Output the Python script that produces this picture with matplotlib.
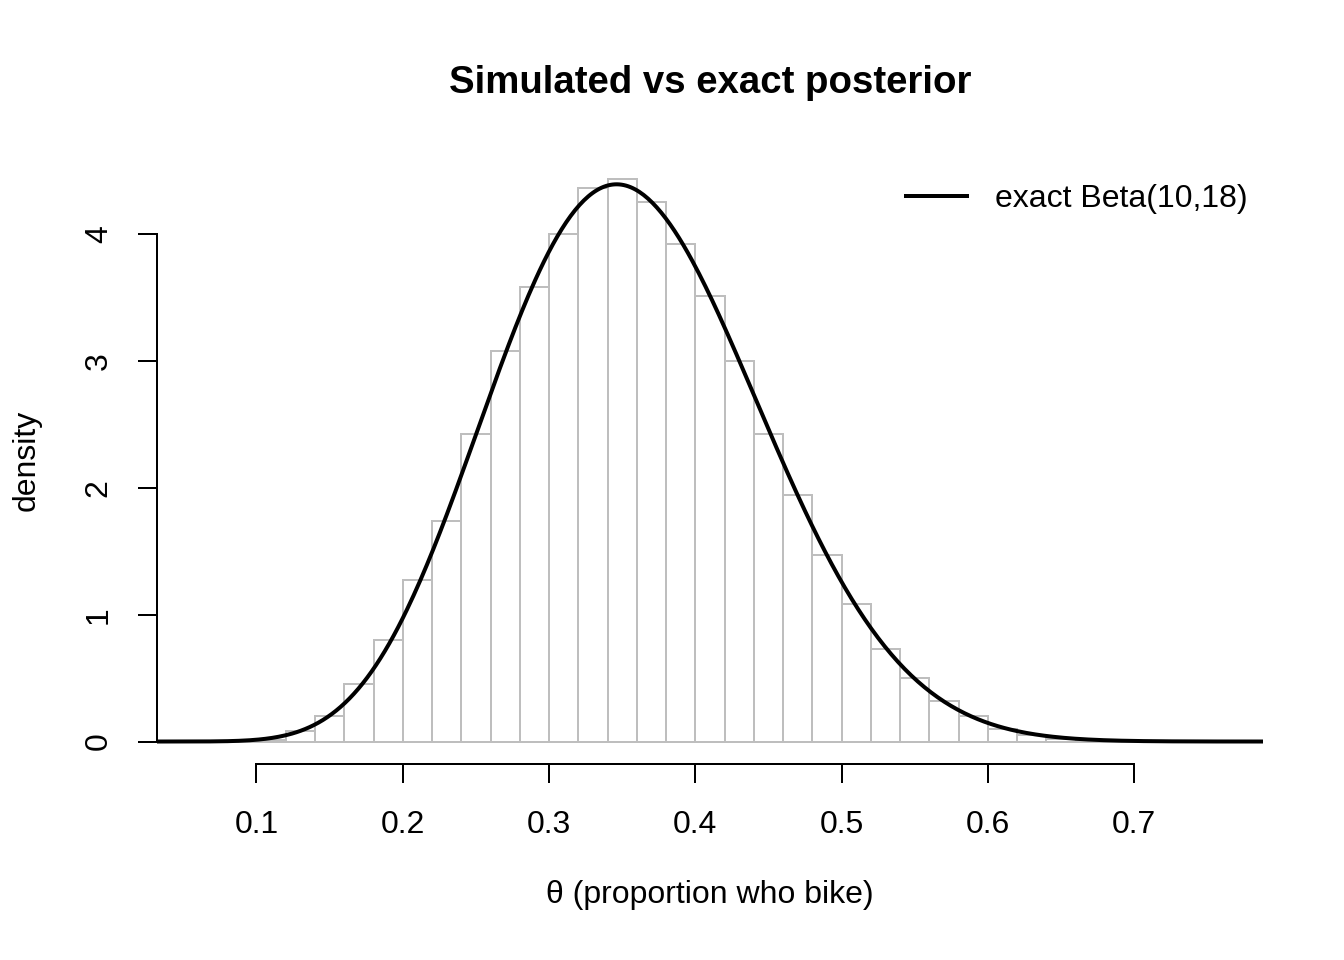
import numpy as np
import matplotlib
matplotlib.use("Agg")
import matplotlib.pyplot as plt
from math import lgamma

plt.rcParams["font.family"] = ["Liberation Sans", "DejaVu Sans"]

# Simulated draws, as a density histogram (bins of width 0.02 from 0.06)
bin_start = 0.06
bin_width = 0.02
sim_density = [0.0, 0.0, 0.01, 0.08, 0.20, 0.45, 0.80, 1.27, 1.74, 2.42,
               3.08, 3.58, 4.00, 4.36, 4.43, 4.25, 3.92, 3.51, 3.00, 2.42,
               1.94, 1.47, 1.08, 0.73, 0.50, 0.32, 0.20, 0.10, 0.05, 0.02,
               0.005, 0.0, 0.0, 0.0, 0.0]

# Exact posterior
a, b = 10, 18

x_ticks = [0.1, 0.2, 0.3, 0.4, 0.5, 0.6, 0.7]
y_ticks = [0, 1, 2, 3, 4]

edges = bin_start + bin_width * np.arange(len(sim_density) + 1)
lo, hi = edges[0], edges[-1]
xr = hi - lo
ymax = max(sim_density)

fig = plt.figure(figsize=(7, 5), dpi=192)
ax = fig.add_axes([157 / 1344, 1 - 764 / 960, (1263 - 157) / 1344, (764 - 157) / 960])

ax.bar(edges[:-1], sim_density, width=bin_width, align="edge",
       facecolor="white", edgecolor="#BEBEBE", linewidth=0.75)

xlim = (lo - 0.04 * xr, hi + 0.04 * xr)
xs = np.linspace(xlim[0], xlim[1], 501)
logc = lgamma(a + b) - lgamma(a) - lgamma(b)
pdf = np.exp(logc + (a - 1) * np.log(xs) + (b - 1) * np.log(1 - xs))
ax.plot(xs, pdf, color="black", linewidth=1.5, label="exact Beta(10,18)")

ax.set_xlim(*xlim)
ax.set_ylim(-0.04 * ymax, 1.04 * ymax)

for s in ["top", "right"]:
    ax.spines[s].set_visible(False)
ax.spines["left"].set_bounds(y_ticks[0], y_ticks[-1])
ax.spines["bottom"].set_bounds(x_ticks[0], x_ticks[-1])
for s in ["left", "bottom"]:
    ax.spines[s].set_linewidth(0.75)

ax.set_xticks(x_ticks)
ax.set_xticklabels([str(t) for t in x_ticks])
ax.set_yticks(y_ticks)
ax.set_yticklabels([str(t) for t in y_ticks], rotation=90, va="center")
ax.tick_params(axis="both", length=7.2, width=0.75, labelsize=12)
ax.tick_params(axis="x", pad=10)
ax.tick_params(axis="y", pad=9)

ax.set_xlabel("θ (proportion who bike)", fontsize=12, labelpad=15)
ax.set_ylabel("density", fontsize=12, labelpad=16)
ax.set_title("Simulated vs exact posterior", fontsize=14.4, fontweight="bold", pad=24)

ax.legend(loc="upper right", bbox_to_anchor=(0.998, 0.976), frameon=False, fontsize=12,
          handlelength=1.9, handletextpad=0.9, borderaxespad=0)

fig.savefig("out.png", dpi=192)
